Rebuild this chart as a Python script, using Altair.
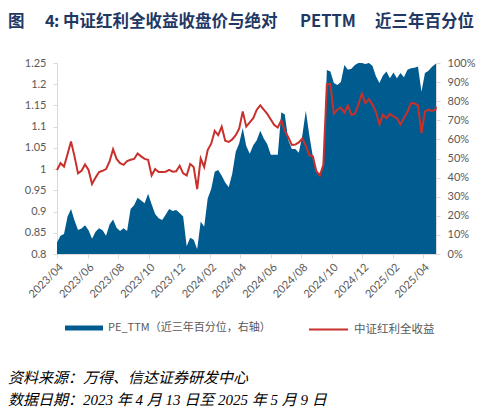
import altair as alt
import pandas as pd

# ---------------- data (weekly sampling) ----------------
DATES = list(pd.date_range("2023-04-13", periods=109, freq="7D").strftime("%Y-%m-%d")) + ["2025-05-09"]

PE_PCT = [
    6, 9.6, 10.5, 19.5, 23.5, 17.5, 12.6, 13.4, 15, 12.5,
    8, 11.7, 13.5, 12.5, 9.5, 15.5, 18, 13.7, 12.1, 13.5,
    12, 23.6, 25.5, 29.5, 28, 26.6, 31.5, 26, 21, 18.7,
    17.8, 20.5, 23.5, 22.5, 23, 21.5, 19.6, 4, 8.5, 7.5,
    2.5, 17, 14.3, 29, 34, 43, 44, 41, 37.5, 35,
    42, 53.5, 58, 66, 56.5, 52.5, 57, 59.5, 64.5, 60.5,
    57.5, 52, 51.9, 52, 74.2, 73, 59.5, 55, 55, 53,
    62, 75, 62, 51, 43, 42, 47, 96.3, 95.5, 89.5,
    88.5, 90, 99, 96.5, 97, 99, 100, 100, 99.5, 100,
    98.5, 93, 89.5, 93.5, 95.5, 92, 95, 92, 94.7, 92.5,
    96.5, 97.3, 97.5, 98.2, 85, 94.7, 96, 98, 99.5, 99.7,
]

CSDIV_TR = [
    0.998, 1.014, 1.006, 1.035, 1.065, 1.03, 0.99, 0.996, 1.011, 0.998,
    0.965, 0.98, 0.993, 0.996, 1.0, 1.018, 1.047, 1.024, 1.014, 1.01,
    1.019, 1.022, 1.024, 1.037, 1.03, 1.024, 1.022, 0.985, 1.0, 0.993,
    0.993, 0.994, 0.998, 0.994, 0.995, 1.008, 0.99, 0.985, 1.012, 1.005,
    0.953, 1.025, 1.005, 1.045, 1.06, 1.09, 1.08, 1.1, 1.067, 1.064,
    1.07, 1.08, 1.096, 1.136, 1.1, 1.11, 1.12, 1.14, 1.15, 1.14,
    1.13, 1.117, 1.104, 1.098, 1.115, 1.09, 1.075, 1.057, 1.058, 1.063,
    1.072, 1.055, 1.033, 1.03, 0.995, 0.985, 1.01, 1.2, 1.2, 1.13,
    1.14, 1.145, 1.133, 1.15, 1.128, 1.13, 1.152, 1.178, 1.155, 1.165,
    1.152, 1.135, 1.105, 1.128, 1.12, 1.13, 1.124, 1.12, 1.105, 1.12,
    1.135, 1.155, 1.155, 1.15, 1.085, 1.136, 1.14, 1.137, 1.14, 1.147,
]

X_TICKS = [(2023, 4), (2023, 6), (2023, 8), (2023, 10), (2023, 12), (2024, 2), (2024, 4),
           (2024, 6), (2024, 8), (2024, 10), (2024, 12), (2025, 2), (2025, 4)]
LEFT_TICKS = [0.8, 0.85, 0.9, 0.95, 1.0, 1.05, 1.1, 1.15, 1.2, 1.25]
RIGHT_TICKS = [0, 10, 20, 30, 40, 50, 60, 70, 80, 90, 100]

PE_NAME = "PE_TTM（近三年百分位，右轴）"
IDX_NAME = "中证红利全收益"

TITLE_PARTS = [("图", -49), ("4", -12), (":", -3), ("中证红利全收益收盘价与绝对", 6),
               ("PETTM", 243), ("近三年百分位", 318)]
FOOTER = ["资料来源：万得、信达证券研发中心", "数据日期：2023 年 4 月 13 日至 2025 年 5 月 9 日"]

# ---------------- chart ----------------
BLUE = "#005B8E"
RED = "#C8302C"
GREY = "#595959"
AXIS_LINE = "#D9D9D9"
LABEL_FONT = "Lato"
CJK = "Noto Sans CJK SC"

df = pd.DataFrame({"date": DATES, "pe": PE_PCT, "idx": CSDIV_TR})
df["s_pe"] = PE_NAME
df["s_idx"] = IDX_NAME

W, H = 379, 191

x_enc = alt.X(
    "date:T",
    scale=alt.Scale(type="utc",
                    domain=[alt.DateTime(year=2023, month=4, date=13, utc=True),
                            alt.DateTime(year=2025, month=5, date=9, utc=True)]),
    axis=alt.Axis(
        values=[alt.DateTime(year=y, month=m, date=13, utc=True) for y, m in X_TICKS],
        format="%Y/%m", labelAngle=-45, labelOverlap=False, title=None, grid=False,
        domainColor=AXIS_LINE, tickColor=AXIS_LINE, tickSize=4,
        labelFont=LABEL_FONT, labelFontSize=11, labelColor=GREY, labelPadding=3,
    ),
)

area = alt.Chart(df).mark_area(opacity=1, interpolate="linear").encode(
    x=x_enc,
    y=alt.Y("pe:Q", scale=alt.Scale(domain=[0, 100], nice=False, zero=True),
            axis=alt.Axis(orient="right", values=RIGHT_TICKS, labelExpr="datum.value + '%'",
                          title=None, grid=False, domainColor=AXIS_LINE, tickColor=AXIS_LINE,
                          tickSize=4, labelPadding=7, labelFont=LABEL_FONT, labelFontSize=11,
                          labelColor=GREY)),
    fill=alt.Fill("s_pe:N", scale=alt.Scale(domain=[PE_NAME], range=[BLUE]),
                  legend=alt.Legend(orient="none", legendX=8, legendY=246, title=None,
                                    symbolType="M-1,-0.13H1V0.13H-1Z", symbolSize=1444,
                                    symbolStrokeWidth=0, symbolOpacity=1,
                                    labelFont=CJK, labelFontSize=11, labelColor=GREY,
                                    labelLimit=400, labelOffset=5, padding=0)),
)

line = alt.Chart(df).mark_line(strokeWidth=2, interpolate="linear").encode(
    x=x_enc,
    y=alt.Y("idx:Q", scale=alt.Scale(domain=[0.8, 1.25], nice=False, zero=False),
            axis=alt.Axis(orient="left", values=LEFT_TICKS, format="~g", title=None,
                          grid=False, domainColor=AXIS_LINE, tickColor=AXIS_LINE, tickSize=4,
                          labelPadding=7, labelFont=LABEL_FONT, labelFontSize=11,
                          labelColor=GREY)),
    stroke=alt.Stroke("s_idx:N", scale=alt.Scale(domain=[IDX_NAME], range=[RED]),
                      legend=alt.Legend(orient="none", legendX=251, legendY=246, title=None,
                                        symbolType="stroke", symbolSize=1521,
                                        symbolStrokeWidth=2,
                                        labelFont=CJK, labelFontSize=11.5, labelColor=GREY,
                                        labelLimit=400, labelOffset=5, padding=0)),
)

one = pd.DataFrame({"k": [0]})
texts = []
for txt, xpos in TITLE_PARTS:
    texts.append(
        alt.Chart(one).mark_text(text=txt, align="left", baseline="middle",
                                 font=CJK, fontSize=16.5, fontWeight="bold",
                                 color="#1F3864").encode(x=alt.value(xpos), y=alt.value(-41.5))
    )
for i, txt in enumerate(FOOTER):
    texts.append(
        alt.Chart(one).mark_text(text=txt, align="left", baseline="middle",
                                 font="'Liberation Serif', 'Noto Sans CJK SC'", fontSize=15,
                                 fontStyle="italic", color="#000000").encode(
            x=alt.value(-49), y=alt.value(315 + 22 * i))
    )

chart = alt.layer(area, line, *texts).resolve_scale(
    y="independent", fill="independent", stroke="independent"
).properties(
    width=W, height=H,
    autosize=alt.AutoSizeParams(type="none"),
    padding={"left": 49, "top": 55, "right": 49, "bottom": 155},
).configure_view(stroke=None)

chart.save("out.html", embed_options={"renderer": "svg", "actions": False})
